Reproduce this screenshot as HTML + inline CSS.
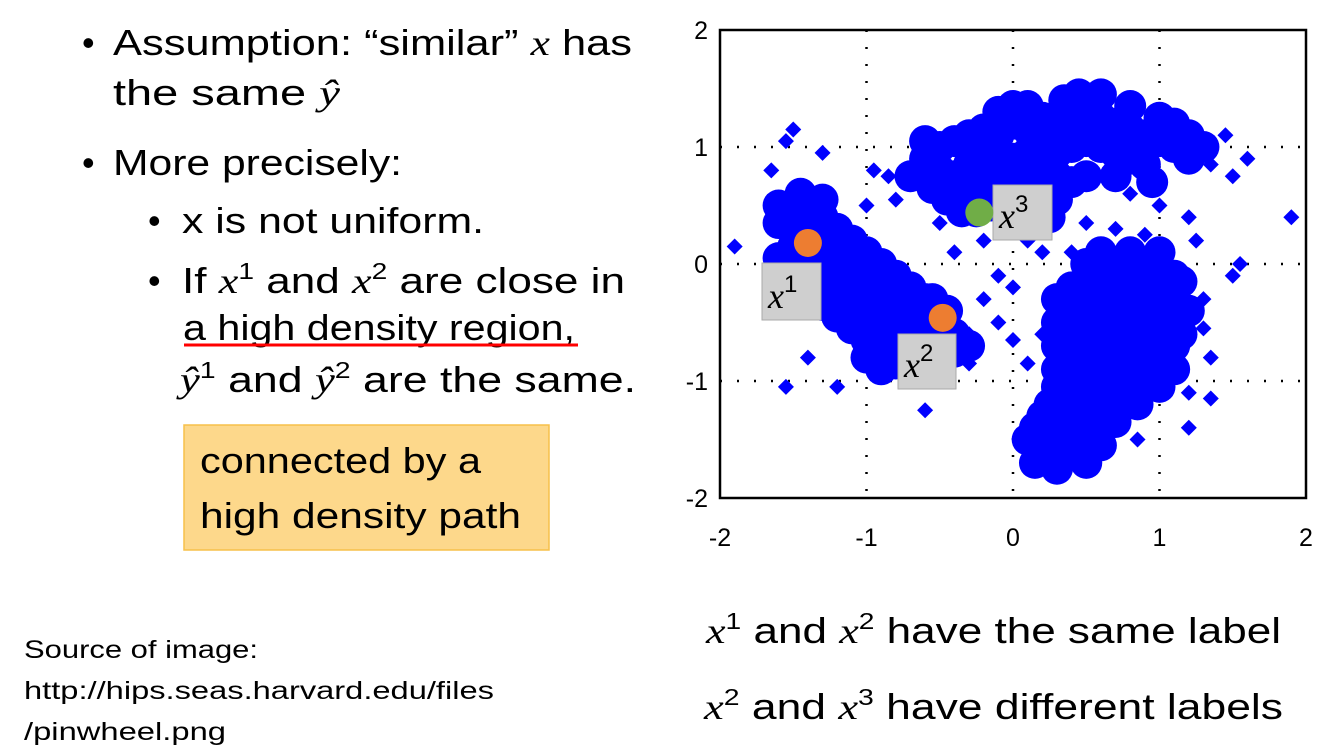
<!DOCTYPE html>
<html><head><meta charset="utf-8"><style>
html,body{margin:0;padding:0;background:#fff}
svg{display:block}
.t{font-family:"Liberation Sans",Arial,sans-serif;fill:#000}
.m{font-family:"Liberation Serif","DejaVu Serif",serif;font-style:italic}
.tick{font-family:"Liberation Sans",Arial,sans-serif;font-size:25px;fill:#000}
</style></head><body>
<svg id="slide" width="1323" height="754" viewBox="0 0 1323 754" xmlns="http://www.w3.org/2000/svg">
<g class="t" font-size="36">
  <text x="82" y="55">•</text>
  <text x="113" y="55" textLength="519" lengthAdjust="spacingAndGlyphs">Assumption: “similar” <tspan class="m">x</tspan> has</text>
  <text x="113" y="105" textLength="227" lengthAdjust="spacingAndGlyphs">the same <tspan class="m">ŷ</tspan></text>
  <text x="82" y="175">•</text>
  <text x="113" y="175" textLength="289" lengthAdjust="spacingAndGlyphs">More precisely:</text>
  <text x="148" y="233">•</text>
  <text x="182" y="233" textLength="302" lengthAdjust="spacingAndGlyphs">x is not uniform.</text>
  <text x="148" y="293">•</text>
  <text x="182" y="293" textLength="443" lengthAdjust="spacingAndGlyphs">If <tspan class="m">x</tspan><tspan font-size="23" dy="-14">1</tspan><tspan dy="14"> and </tspan><tspan class="m">x</tspan><tspan font-size="23" dy="-14">2</tspan><tspan dy="14"> are close in</tspan></text>
  <text x="183" y="340" textLength="392" lengthAdjust="spacingAndGlyphs">a high density region,</text>
  <text x="180" y="392" textLength="456" lengthAdjust="spacingAndGlyphs"><tspan class="m">ŷ</tspan><tspan font-size="23" dy="-14">1</tspan><tspan dy="14"> and </tspan><tspan class="m">ŷ</tspan><tspan font-size="23" dy="-14">2</tspan><tspan dy="14"> are the same.</tspan></text>
</g>
<line x1="184" y1="345" x2="578" y2="345" stroke="#f00" stroke-width="3"/>
<rect x="184" y="425" width="365" height="125" fill="#fdd88b" stroke="#f7c04a" stroke-width="1.5"/>
<text class="t" x="200" y="473" font-size="36" textLength="281" lengthAdjust="spacingAndGlyphs">connected by a</text>
<text class="t" x="200" y="528" font-size="36" textLength="321" lengthAdjust="spacingAndGlyphs">high density path</text>
<g class="t" font-size="25">
  <text x="24" y="658" textLength="234" lengthAdjust="spacingAndGlyphs">Source of image:</text>
  <text x="24" y="699" textLength="470" lengthAdjust="spacingAndGlyphs">http://hips.seas.harvard.edu/files</text>
  <text x="24" y="740" textLength="202" lengthAdjust="spacingAndGlyphs">/pinwheel.png</text>
</g>
<text class="t" x="706" y="643" font-size="36" textLength="575" lengthAdjust="spacingAndGlyphs"><tspan class="m">x</tspan><tspan font-size="23" dy="-14">1</tspan><tspan dy="14"> and </tspan><tspan class="m">x</tspan><tspan font-size="23" dy="-14">2</tspan><tspan dy="14"> have the same label</tspan></text>
<text class="t" x="704" y="719" font-size="36" textLength="579" lengthAdjust="spacingAndGlyphs"><tspan class="m">x</tspan><tspan font-size="23" dy="-14">2</tspan><tspan dy="14"> and </tspan><tspan class="m">x</tspan><tspan font-size="23" dy="-14">3</tspan><tspan dy="14"> have different labels</tspan></text>
<g id="chart"></g>
</svg>
<script>
const xTicks = [-2, -1, 0, 1, 2];
const yTicks = [-2, -1, 0, 1, 2];
const densePoints = [
[-1.5,0.3],[-1.4,0.35],[-1.5,0.15],[-1.4,0.1],[-1.3,0.2],[-1.3,0.05],[-1.2,0.1],[-1.2,-0.05],[-1.1,0.0],[-1.1,-0.15],[-1.0,-0.1],[-1.0,-0.25],[-0.9,-0.2],[-0.9,-0.35],[-0.8,-0.3],[-0.8,-0.45],[-0.7,-0.4],[-0.7,-0.55],[-0.6,-0.5],[-0.6,-0.65],[-0.5,-0.55],[-0.5,-0.7],[-0.4,-0.6],[-1.3,-0.15],[-1.2,-0.25],[-1.1,-0.35],[-1.0,-0.45],[-0.9,-0.55],[-0.8,-0.65],[-0.7,-0.75],[-0.9,-0.75],[-0.8,-0.85],[-1.4,0.45],[-1.3,0.4],[-1.2,0.3],[-1.1,0.2],[-1.0,0.1],[-0.9,0.0],[-0.8,-0.1],[-0.7,-0.2],[-0.6,-0.3],[-1.5,0.5],[-1.45,0.6],[-1.3,0.55],
[-1.6,0.35],[-1.6,0.05],[-1.5,-0.05],[-1.4,-0.15],[-1.3,-0.35],[-1.2,-0.45],[-1.1,-0.55],[-1.0,-0.65],[-1.0,-0.8],[-0.9,-0.9],[-0.6,-0.85],[-0.5,-0.85],[-0.4,-0.75],[-0.3,-0.7],[-0.55,-0.3],[-0.45,-0.4],[-1.6,0.5],
[-0.6,0.9],[-0.5,1.0],[-0.4,1.05],[-0.3,1.1],[-0.2,1.15],[-0.1,1.1],[0.0,1.2],[0.1,1.15],[0.2,1.25],[0.3,1.2],[0.4,1.25],[0.5,1.3],[0.6,1.25],[0.7,1.2],[0.8,1.15],[0.9,1.1],[1.0,1.05],[1.1,1.0],[-0.5,0.8],[-0.4,0.75],[-0.3,0.85],[-0.2,0.9],[-0.1,0.95],[0.0,0.9],[0.1,0.95],[0.2,1.0],[0.3,0.95],[0.4,1.0],[0.5,1.05],[0.6,1.0],[0.7,0.95],[0.8,0.9],[0.9,0.85],[-0.3,0.6],[-0.2,0.65],[-0.1,0.7],[0.0,0.7],[0.1,0.75],[0.2,0.8],[0.3,0.75],[0.4,0.7],[0.5,0.75],[-0.35,0.45],[0.0,1.35],[0.35,1.4],[0.6,1.45],[0.3,0.55],[0.7,0.75],[1.1,1.2],[1.2,0.9],
[-0.6,1.05],[-0.55,0.65],[-0.45,0.55],[-0.25,0.45],[-0.15,0.5],[0.0,0.55],[0.15,0.6],[0.25,0.4],[-0.1,1.3],[0.1,1.35],[0.45,1.45],[0.8,1.35],[1.0,1.25],[1.2,1.1],[1.3,1.0],[0.95,0.7],[-0.7,0.75],
[0.5,0.0],[0.6,-0.05],[0.7,0.0],[0.8,-0.05],[0.9,0.0],[1.0,-0.05],[1.1,-0.1],[0.4,-0.2],[0.5,-0.2],[0.6,-0.25],[0.7,-0.2],[0.8,-0.25],[0.9,-0.2],[1.0,-0.25],[1.1,-0.3],[0.4,-0.4],[0.5,-0.4],[0.6,-0.45],[0.7,-0.4],[0.8,-0.45],[0.9,-0.4],[1.0,-0.45],[1.1,-0.5],[0.4,-0.6],[0.5,-0.6],[0.6,-0.65],[0.7,-0.6],[0.8,-0.65],[0.9,-0.6],[1.0,-0.65],[1.1,-0.7],[0.4,-0.8],[0.5,-0.8],[0.6,-0.85],[0.7,-0.8],[0.8,-0.85],[0.9,-0.8],[1.0,-0.85],[0.4,-1.0],[0.5,-1.0],[0.6,-1.05],[0.7,-1.0],[0.8,-1.05],[0.9,-1.0],[0.35,-1.2],[0.45,-1.2],[0.55,-1.25],[0.65,-1.2],[0.75,-1.2],[0.3,-1.4],[0.4,-1.4],[0.5,-1.45],[0.6,-1.4],[0.2,-1.55],[0.3,-1.6],[0.45,-1.6],[0.15,-1.7],
[0.3,-0.3],[0.3,-0.5],[0.3,-0.7],[0.3,-0.9],[0.3,-1.05],[0.2,-1.3],[0.25,-1.2],[0.1,-1.5],[0.15,-1.4],[0.6,0.1],[0.8,0.1],[1.0,0.1],[1.15,-0.15],[1.2,-0.4],[1.15,-0.6],[1.1,-0.9],[1.0,-1.05],[0.85,-1.2],[0.7,-1.35],[0.6,-1.55],[0.5,-1.7],[0.3,-1.75],[0.2,-1.65]
];
const sparsePoints = [
[-1.9,0.15],[-1.65,0.8],[-1.55,1.05],[-1.5,1.15],[-1.3,0.95],[-0.95,0.8],[-1.0,0.5],[-0.8,0.55],[-0.85,0.75],[-0.5,0.35],[-0.4,0.1],[-0.2,0.2],[-0.1,-0.1],[0.0,-0.2],[0.1,0.2],[0.2,0.1],[-0.2,-0.3],[-0.1,-0.5],[0.0,-0.65],[-0.3,-0.85],[-1.55,-1.05],[-1.2,-1.05],[-1.4,-0.8],[-0.7,-1.0],[-0.6,-1.25],[-0.3,-0.6],[0.1,-0.85],[0.2,-0.6],[1.3,-0.3],[1.3,-0.55],[1.35,-0.8],[1.35,-1.15],[1.2,-1.1],[1.5,-0.1],[1.25,0.2],[1.2,0.4],[1.55,0.0],[1.9,0.4],[1.6,0.9],[1.5,0.75],[1.35,0.85],[1.3,1.05],[1.45,1.1],[0.8,0.6],[1.0,0.5],[0.9,0.25],[0.7,0.3],[0.5,0.35],[0.4,0.1],[1.2,-1.4],[0.85,-1.5]
];
const highlightPoints = [[-1.4,0.18],[-0.48,-0.46],[-0.23,0.44]];
const highlightNames = ['x1-point','x2-point','x3-point'];
const highlightColors = ['#ed7d31','#ed7d31','#70ad47'];

const NS='http://www.w3.org/2000/svg';
const L=720,R=1306,T=30,B=498;
const sx=v=>L+(v+2)/4*(R-L);
const sy=v=>B-(v+2)/4*(B-T);
const chart=document.getElementById('chart');
function mk(tag,attrs,parent){const e=document.createElementNS(NS,tag);for(const k in attrs)e.setAttribute(k,attrs[k]);(parent||chart).appendChild(e);return e;}

const bg=mk('rect',{x:L,y:T,width:R-L,height:B-T,fill:'#fff'});


xTicks.slice(1,-1).forEach(v=>{
  const g=mk('line',{x1:sx(v),x2:sx(v),y1:T,y2:B,stroke:'#000','stroke-width':2.5,'stroke-dasharray':'2 15'});
  
  
});
yTicks.slice(1,-1).forEach(v=>{
  const g=mk('line',{x1:L,x2:R,y1:sy(v),y2:sy(v),stroke:'#000','stroke-width':2.5,'stroke-dasharray':'2 15'});
  
  
});
densePoints.forEach(p=>{
  const r=mk('circle',{cx:sx(p[0]),cy:sy(p[1]),r:16,fill:'#0000ff'});
  
  
});
sparsePoints.forEach(p=>{
  const x=sx(p[0]),y=sy(p[1]);
  const d=mk('path',{d:`M${x} ${y-8}L${x+8} ${y}L${x} ${y+8}L${x-8} ${y}Z`,fill:'#0000ff'});
  
  
});
const frame=mk('rect',{x:L,y:T,width:R-L,height:B-T,fill:'none',stroke:'#000','stroke-width':2.5});


xTicks.forEach(v=>{
  const t=mk('text',{x:sx(v),y:B+48,'text-anchor':'middle',class:'tick'});
  t.textContent=v;
  
  
});
yTicks.forEach(v=>{
  const t=mk('text',{x:L-12,y:sy(v)+9,'text-anchor':'end',class:'tick'});
  t.textContent=v;
  
  
});
const boxes=[[762,263,59,57,'1','x1-label'],[898,334,58,55,'2','x2-label'],[993,185,59,55,'3','x3-label']];
boxes.forEach(b=>{
  const g=mk('g',{});
  
  
  mk('rect',{x:b[0],y:b[1],width:b[2],height:b[3],fill:'#cfcfcf',stroke:'#aaa','stroke-width':1},g);
  const t=mk('text',{x:b[0]+6,y:b[1]+b[3]-12,'font-size':36,class:'t'},g);
  t.innerHTML='<tspan class="m">x</tspan><tspan font-size="24" dy="-16">'+b[4]+'</tspan>';
});
highlightPoints.forEach((p,i)=>{
  const c=mk('circle',{cx:sx(p[0]),cy:sy(p[1]),r:14,fill:highlightColors[i]});
  
  
});
</script>
</body></html>
